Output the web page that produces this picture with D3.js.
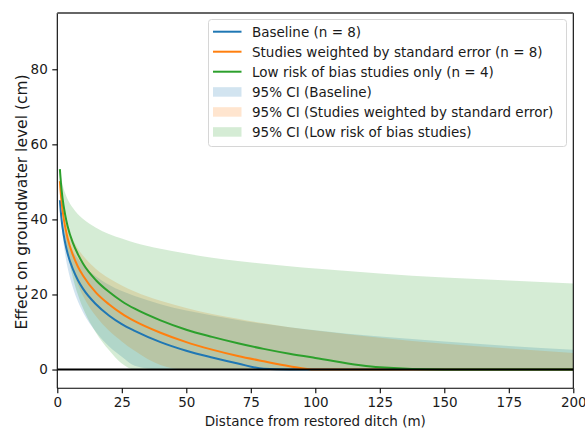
<!DOCTYPE html>
<html>
<head>
<meta charset="utf-8">
<script src="https://cdn.jsdelivr.net/npm/d3@7"></script>
<style>
  html, body { margin: 0; padding: 0; background: #fff; }
  svg { display: block; font-family: "DejaVu Sans", sans-serif; }
</style>
</head>
<body>
<svg id="chart" width="585" height="432"></svg>
<script>
const distance = [1, 1.5, 2, 3, 4, 6, 8, 10, 15, 20, 25, 30, 40, 50, 60, 70, 80, 90, 100, 125, 150, 175, 200];

// Baseline (n = 8)
const baselineMean  = [45.1, 41.0, 38.0, 33.9, 30.9, 26.8, 23.8, 21.5, 17.4, 14.4, 12.1, 10.3, 7.3, 5.0, 3.2, 1.6, 0.2, 0, 0, 0, 0, 0, 0];
const baselineUpper = [45.1, 42.1, 39.9, 36.9, 34.7, 31.6, 29.5, 27.8, 24.8, 22.6, 20.9, 19.6, 17.4, 15.7, 14.4, 13.2, 12.2, 11.3, 10.5, 8.8, 7.5, 6.3, 5.3];
const baselineLower = [45.1, 39.8, 36.1, 30.9, 27.1, 21.9, 18.1, 15.2, 10.0, 6.2, 3.4, 1.0, 0, 0, 0, 0, 0, 0, 0, 0, 0, 0, 0];

// Studies weighted by standard error (n = 8)
const weightedMean  = [50.2, 45.8, 42.6, 38.2, 35.0, 30.6, 27.4, 25.0, 20.5, 17.4, 14.9, 12.9, 9.8, 7.3, 5.3, 3.6, 2.2, 0.9, 0, 0, 0, 0, 0];
const weightedUpper = [50.2, 46.7, 44.2, 40.7, 38.2, 34.7, 32.2, 30.3, 26.8, 24.3, 22.4, 20.8, 18.3, 16.4, 14.8, 13.5, 12.3, 11.3, 10.4, 8.5, 6.9, 5.6, 4.4];
const weightedLower = [50.2, 44.8, 41.0, 35.6, 31.8, 26.4, 22.6, 19.6, 14.2, 10.4, 7.5, 5.0, 1.2, 0, 0, 0, 0, 0, 0, 0, 0, 0, 0];

// Low risk of bias studies only (n = 4)
const lowRiskMean  = [53.4, 49.0, 45.8, 41.4, 38.2, 33.8, 30.7, 28.2, 23.8, 20.7, 18.2, 16.2, 13.1, 10.6, 8.7, 7.0, 5.5, 4.2, 3.1, 0.6, 0, 0, 0];
const lowRiskUpper = [53.4, 51.1, 49.4, 47.1, 45.4, 43.1, 41.4, 40.1, 37.8, 36.1, 34.9, 33.8, 32.2, 30.9, 29.8, 28.9, 28.2, 27.5, 26.9, 25.6, 24.5, 23.7, 22.9];
const lowRiskLower = [53.4, 46.9, 42.2, 35.7, 31.1, 24.6, 19.9, 16.3, 9.8, 5.2, 1.6, 0, 0, 0, 0, 0, 0, 0, 0, 0, 0, 0, 0];

const xTicks = [0, 25, 50, 75, 100, 125, 150, 175, 200];
const yTicks = [0, 20, 40, 60, 80];

const lineLabels = ["Baseline (n = 8)", "Studies weighted by standard error (n = 8)", "Low risk of bias studies only (n = 4)"];
const ciLabels = ["95% CI (Baseline)", "95% CI (Studies weighted by standard error)", "95% CI (Low risk of bias studies)"];
const colors = ["#1f77b4", "#ff7f0e", "#2ca02c"];

const series = [
  { mean: baselineMean, upper: baselineUpper, lower: baselineLower },
  { mean: weightedMean, upper: weightedUpper, lower: weightedLower },
  { mean: lowRiskMean, upper: lowRiskUpper, lower: lowRiskLower }
];

const svg = d3.select("#chart");
const L = 57.3, R = 573.3, T = 13, B = 388.3;

const x = d3.scaleLinear().domain([0, 200]).range([L, R]);
const y = d3.scaleLinear().domain([-5, 95]).range([B, T]);

svg.append("defs").append("clipPath").attr("id", "clip")
  .append("rect").attr("x", L).attr("y", T).attr("width", R - L).attr("height", B - T);

const plot = svg.append("g").attr("clip-path", "url(#clip)");

// CI bands
series.forEach((s, i) => {
  const area = d3.area()
    .x((d, j) => x(distance[j]))
    .y0((d, j) => y(s.lower[j]))
    .y1((d, j) => y(s.upper[j]))
    .curve(d3.curveMonotoneX);
  plot.append("path").datum(distance)
    .attr("d", area)
    .attr("fill", colors[i])
    .attr("fill-opacity", 0.2)
    .attr("stroke", "none");
});

// Mean lines
series.forEach((s, i) => {
  const line = d3.line()
    .x((d, j) => x(distance[j]))
    .y((d, j) => y(s.mean[j]))
    .curve(d3.curveMonotoneX);
  plot.append("path").datum(distance)
    .attr("d", line)
    .attr("fill", "none")
    .attr("stroke", colors[i])
    .attr("stroke-width", 2);
});

// zero line
plot.append("line")
  .attr("x1", L).attr("x2", R)
  .attr("y1", y(0)).attr("y2", y(0))
  .attr("stroke", "#000").attr("stroke-width", 2.1);

// Axes
const fontSize = "13.5px";
const xAxis = svg.append("g").attr("transform", `translate(0,${B})`)
  .call(d3.axisBottom(x).tickValues(xTicks).tickSize(5).tickPadding(4.5).tickFormat(d3.format("d")));
const yAxis = svg.append("g").attr("transform", `translate(${L},0)`)
  .call(d3.axisLeft(y).tickValues(yTicks).tickSize(5).tickPadding(4.5).tickFormat(d3.format("d")));
[xAxis, yAxis].forEach(g => {
  g.select(".domain").remove();
  g.selectAll(".tick line").attr("stroke", "#000").attr("stroke-width", 1.1);
  g.selectAll(".tick text").attr("fill", "#1a1a1a").style("font-size", fontSize).style("font-family", "DejaVu Sans");
});

// Spines
svg.append("line").attr("x1", L).attr("x2", L).attr("y1", T).attr("y2", B).attr("stroke", "#000").attr("stroke-width", 1.1);
svg.append("line").attr("x1", R).attr("x2", R).attr("y1", T).attr("y2", B).attr("stroke", "#000").attr("stroke-width", 1.1);
svg.append("line").attr("x1", L).attr("x2", R).attr("y1", B).attr("y2", B).attr("stroke", "#000").attr("stroke-width", 1.1);
svg.append("line").attr("x1", L).attr("x2", R).attr("y1", T).attr("y2", T).attr("stroke", "#666").attr("stroke-width", 2);

// Axis labels
svg.append("text")
  .attr("x", (L + R) / 2).attr("y", 426)
  .attr("text-anchor", "middle")
  .style("font-size", fontSize).attr("fill", "#1a1a1a")
  .text("Distance from restored ditch (m)");
svg.append("text")
  .attr("transform", `translate(26.5,202) rotate(-90)`)
  .attr("text-anchor", "middle")
  .style("font-size", "15.5px").attr("fill", "#1a1a1a")
  .text("Effect on groundwater level (cm)");

// Legend
const lg = svg.append("g");
lg.append("rect")
  .attr("x", 208.5).attr("y", 19.5).attr("width", 358).attr("height", 127)
  .attr("rx", 3).attr("fill", "#fff").attr("fill-opacity", 0.8)
  .attr("stroke", "#d6d6d6").attr("stroke-width", 1);
const rowY = (k) => 31.7 + 20 * k;
lineLabels.forEach((lab, i) => {
  lg.append("line").attr("x1", 213).attr("x2", 241.5)
    .attr("y1", rowY(i)).attr("y2", rowY(i))
    .attr("stroke", colors[i]).attr("stroke-width", 2);
  lg.append("text").attr("x", 252).attr("y", rowY(i)).attr("dy", "0.36em")
    .style("font-size", fontSize).attr("fill", "#1a1a1a").text(lab);
});
ciLabels.forEach((lab, i) => {
  const k = i + 3;
  lg.append("rect").attr("x", 213).attr("width", 28.5)
    .attr("y", rowY(k) - 4.5).attr("height", 9.5)
    .attr("fill", colors[i]).attr("fill-opacity", 0.2);
  lg.append("text").attr("x", 252).attr("y", rowY(k)).attr("dy", "0.36em")
    .style("font-size", fontSize).attr("fill", "#1a1a1a").text(lab);
});
</script>
</body>
</html>
